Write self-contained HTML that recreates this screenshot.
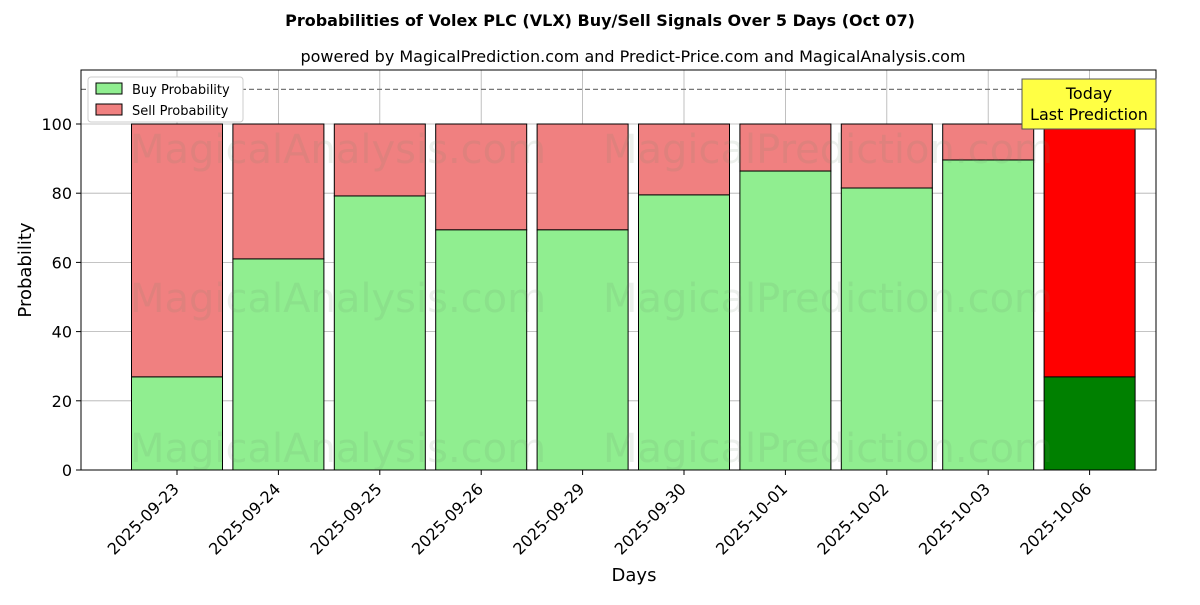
<!DOCTYPE html>
<html><head><meta charset="utf-8"><style>
body{margin:0;background:#fff;font-family:"Liberation Sans","DejaVu Sans",sans-serif}
svg text{font-family:"DejaVu Sans","Liberation Sans",sans-serif}
</style></head><body>
<svg id="c" width="1200" height="600" xmlns="http://www.w3.org/2000/svg">
<text x="600" y="26" text-anchor="middle" font-size="16" font-weight="bold">Probabilities of Volex PLC (VLX) Buy/Sell Signals Over 5 Days (Oct 07)</text>
<text x="633" y="62" text-anchor="middle" font-size="16">powered by MagicalPrediction.com and Predict-Price.com and MagicalAnalysis.com</text>
<g id="grid"></g>
<g id="bars"></g>
<g id="wm" fill="#6a8a6a" fill-opacity="0.13" font-size="40">
<text x="130" y="163">MagicalAnalysis.com</text>
<text x="603" y="163">MagicalPrediction.com</text>
<text x="130" y="312">MagicalAnalysis.com</text>
<text x="603" y="312">MagicalPrediction.com</text>
<text x="130" y="462">MagicalAnalysis.com</text>
<text x="603" y="462">MagicalPrediction.com</text>
</g>
<g id="axes"></g>
<text x="634" y="581" text-anchor="middle" font-size="18">Days</text>
<text transform="translate(31,270) rotate(-90)" text-anchor="middle" font-size="18">Probability</text>
<g>
<rect x="88" y="77" width="155" height="45" fill="#fff" stroke="#ccc" rx="3"/>
<rect x="96" y="83" width="26" height="11" fill="#90ee90" stroke="#000"/>
<text x="132" y="94" font-size="13">Buy Probability</text>
<rect x="96" y="104" width="26" height="11" fill="#f08080" stroke="#000"/>
<text x="132" y="115" font-size="13">Sell Probability</text>
</g>
<g>
<rect x="1022" y="79" width="134" height="50" fill="#ffff44" stroke="#555"/>
<text x="1089" y="99" text-anchor="middle" font-size="16">Today</text>
<text x="1089" y="120" text-anchor="middle" font-size="16">Last Prediction</text>
</g>
</svg>
<script>
const categories=["2025-09-23","2025-09-24","2025-09-25","2025-09-26","2025-09-29","2025-09-30","2025-10-01","2025-10-02","2025-10-03","2025-10-06"];
const buyValues=[26.9,61.0,79.2,69.4,69.4,79.5,86.4,81.5,89.6,26.9];
const yTicks=[0,20,40,60,80,100];
const NS="http://www.w3.org/2000/svg";
const L=81,R=1156,T=70,B=470;
const yS=v=>B-v*3.46;
const xS=i=>177+i*101.4;
const bw=91;
function mk(tag,attrs,parent){const e=document.createElementNS(NS,tag);for(const k in attrs)e.setAttribute(k,attrs[k]);parent.appendChild(e);return e;}
const grid=document.getElementById('grid'),bars=document.getElementById('bars'),axes=document.getElementById('axes');
yTicks.forEach(v=>{
 const g=mk('line',{x1:L,x2:R,y1:yS(v),y2:yS(v),stroke:'#b0b0b0','stroke-width':0.8},grid);
 
 
 mk('line',{x1:L-5,x2:L,y1:yS(v),y2:yS(v),stroke:'#000'},axes);
 const t=mk('text',{x:L-9,y:yS(v)+6,'text-anchor':'end','font-size':16},axes);t.textContent=v;
 
 
});
categories.forEach((c,i)=>{
 const x=xS(i);
 const g=mk('line',{x1:x,x2:x,y1:T,y2:B,stroke:'#b0b0b0','stroke-width':0.8},grid);
 
 
 const last=i===categories.length-1;
 const b=buyValues[i];
 const s=mk('rect',{x:x-bw/2,y:yS(100),width:bw,height:yS(b)-yS(100),fill:last?'#ff0000':'#f08080',stroke:'#000','stroke-width':1},bars);
 
 
 const r=mk('rect',{x:x-bw/2,y:yS(b),width:bw,height:B-yS(b),fill:last?'#008000':'#90ee90',stroke:'#000','stroke-width':1},bars);
 
 
 mk('line',{x1:x,x2:x,y1:B,y2:B+5,stroke:'#000'},axes);
 const t=mk('text',{transform:`translate(${x+3},${B+20}) rotate(-45)`,'text-anchor':'end','font-size':16},axes);t.textContent=c;
 
 
});
const d=mk('line',{x1:L,x2:R,y1:yS(110),y2:yS(110),stroke:'#777','stroke-dasharray':'5,3','stroke-width':1.2},axes);


const f=mk('rect',{x:L,y:T,width:R-L,height:B-T,fill:'none',stroke:'#000','stroke-width':1},axes);


</script>
</body></html>
